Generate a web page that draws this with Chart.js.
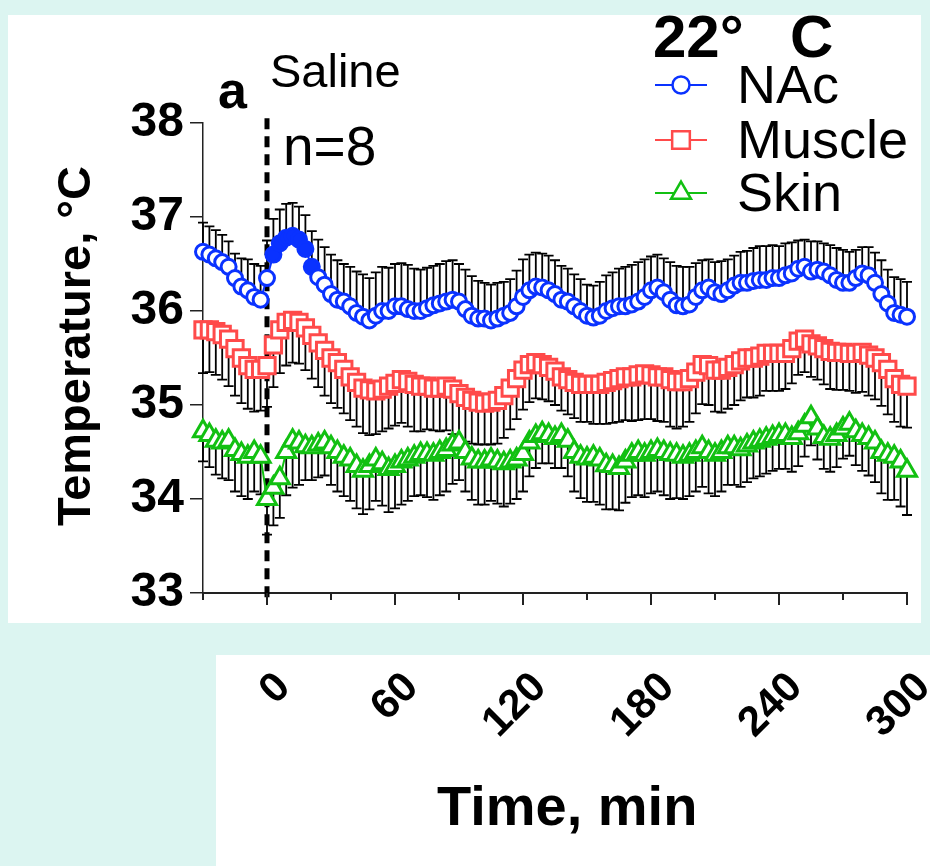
<!DOCTYPE html>
<html>
<head>
<meta charset="utf-8">
<script src="https://cdn.jsdelivr.net/npm/chart.js@4.4.1/dist/chart.umd.min.js"></script>
<style>
  html, body { margin: 0; padding: 0; background: #dcf5f1; }
  canvas { display: block; }
</style>
</head>
<body>
<canvas id="chart" width="930" height="866"></canvas>
<script>
// time in min, saline injected at 0
const times = [
  -30, -27, -24, -21, -18, -15, -12, -9, -6, -3,
  0, 3, 6, 9, 12, 15, 18, 21, 24, 27,
  30, 33, 36, 39, 42, 45, 48, 51, 54, 57,
  60, 63, 66, 69, 72, 75, 78, 81, 84, 87,
  90, 93, 96, 99, 102, 105, 108, 111, 114, 117,
  120, 123, 126, 129, 132, 135, 138, 141, 144, 147,
  150, 153, 156, 159, 162, 165, 168, 171, 174, 177,
  180, 183, 186, 189, 192, 195, 198, 201, 204, 207,
  210, 213, 216, 219, 222, 225, 228, 231, 234, 237,
  240, 243, 246, 249, 252, 255, 258, 261, 264, 267,
  270, 273, 276, 279, 282, 285, 288, 291, 294, 297,
  300
];

const nacMean = [
  36.63, 36.60, 36.56, 36.52, 36.47, 36.35, 36.26, 36.22, 36.15, 36.12,
  36.35, 36.60, 36.72, 36.78, 36.80, 36.76, 36.66, 36.47, 36.36, 36.28,
  36.18, 36.12, 36.10, 36.05, 35.98, 35.94, 35.90, 35.95, 36.00, 36.00,
  36.05, 36.05, 36.02, 36.00, 36.00, 36.03, 36.06, 36.08, 36.10, 36.12,
  36.10, 36.02, 35.95, 35.92, 35.92, 35.90, 35.92, 35.95, 35.98, 36.05,
  36.15, 36.22, 36.26, 36.25, 36.22, 36.18, 36.12, 36.10, 36.05, 36.00,
  35.95, 35.93, 35.95, 36.00, 36.03, 36.05, 36.05, 36.07, 36.10, 36.15,
  36.22, 36.25, 36.20, 36.12, 36.06, 36.05, 36.07, 36.15, 36.22, 36.25,
  36.20, 36.18, 36.22, 36.27, 36.30, 36.30, 36.32, 36.33, 36.33, 36.35,
  36.35, 36.38, 36.40, 36.45, 36.47, 36.42, 36.44, 36.42, 36.38, 36.33,
  36.30, 36.30, 36.35, 36.40, 36.38, 36.30, 36.18, 36.08, 35.98, 35.96,
  35.94
];
const nacSem = [
  0.31, 0.30, 0.30, 0.29, 0.27, 0.26, 0.30, 0.33, 0.35, 0.36,
  0.40, 0.38, 0.36, 0.36, 0.35, 0.35, 0.36, 0.38, 0.40, 0.40,
  0.42, 0.42, 0.40, 0.42, 0.44, 0.45, 0.45, 0.46, 0.47, 0.46,
  0.45, 0.46, 0.47, 0.45, 0.44, 0.43, 0.42, 0.42, 0.43, 0.42,
  0.40, 0.42, 0.42, 0.40, 0.38, 0.38, 0.38, 0.36, 0.36, 0.38,
  0.40, 0.38, 0.36, 0.36, 0.37, 0.36, 0.36, 0.35, 0.34, 0.34,
  0.33, 0.34, 0.36, 0.38, 0.38, 0.40, 0.42, 0.42, 0.42, 0.40,
  0.36, 0.35, 0.36, 0.40, 0.42, 0.42, 0.40, 0.36, 0.32, 0.30,
  0.32, 0.35, 0.33, 0.32, 0.33, 0.34, 0.35, 0.36, 0.36, 0.35,
  0.34, 0.34, 0.33, 0.30, 0.29, 0.32, 0.30, 0.30, 0.32, 0.34,
  0.35, 0.33, 0.30, 0.28, 0.30, 0.32, 0.36, 0.36, 0.38, 0.38,
  0.37
];

const muscleMean = [
  35.80, 35.80, 35.78, 35.75, 35.70, 35.60, 35.50, 35.42, 35.38, 35.38,
  35.42, 35.64, 35.80, 35.88, 35.90, 35.88, 35.82, 35.74, 35.66, 35.58,
  35.50, 35.45, 35.38, 35.30, 35.24, 35.18, 35.16, 35.15, 35.17, 35.20,
  35.23, 35.27, 35.25, 35.22, 35.20, 35.20, 35.18, 35.18, 35.20, 35.17,
  35.12, 35.08, 35.05, 35.03, 35.02, 35.03, 35.05, 35.10, 35.18, 35.28,
  35.37, 35.43, 35.45, 35.43, 35.40, 35.36, 35.30, 35.27, 35.24, 35.22,
  35.22, 35.22, 35.22, 35.24, 35.26, 35.28, 35.30, 35.30, 35.32, 35.33,
  35.32, 35.30, 35.30, 35.27, 35.25, 35.25, 35.28, 35.35, 35.43, 35.42,
  35.37, 35.37, 35.40, 35.43, 35.47, 35.50, 35.50, 35.52, 35.55, 35.55,
  35.55, 35.55, 35.60, 35.68, 35.70, 35.65, 35.63, 35.60, 35.57, 35.56,
  35.56, 35.55, 35.55, 35.56, 35.53, 35.50, 35.45, 35.38, 35.28, 35.22,
  35.20
];
const muscleSem = [
  0.46, 0.45, 0.46, 0.48, 0.50, 0.50, 0.48, 0.46, 0.45, 0.44,
  0.44, 0.45, 0.46, 0.46, 0.45, 0.44, 0.45, 0.46, 0.47, 0.48,
  0.48, 0.48, 0.47, 0.46, 0.47, 0.48, 0.48, 0.46, 0.45, 0.45,
  0.45, 0.46, 0.48, 0.50, 0.48, 0.46, 0.45, 0.46, 0.47, 0.48,
  0.48, 0.47, 0.46, 0.45, 0.44, 0.45, 0.46, 0.45, 0.44, 0.43,
  0.42, 0.40, 0.38, 0.37, 0.36, 0.36, 0.36, 0.37, 0.38, 0.40,
  0.40, 0.42, 0.42, 0.44, 0.45, 0.46, 0.46, 0.47, 0.48, 0.48,
  0.47, 0.47, 0.48, 0.50, 0.50, 0.48, 0.46, 0.44, 0.42, 0.42,
  0.44, 0.45, 0.44, 0.43, 0.42, 0.42, 0.42, 0.42, 0.40, 0.40,
  0.40, 0.38, 0.37, 0.36, 0.35, 0.35, 0.36, 0.38, 0.40, 0.40,
  0.40, 0.40, 0.42, 0.42, 0.43, 0.44, 0.46, 0.48, 0.46, 0.45,
  0.44
];

const skinMean = [
  34.72, 34.68, 34.62, 34.60, 34.62, 34.52, 34.48, 34.45, 34.50, 34.45,
  34.00, 34.12, 34.22, 34.50, 34.62, 34.60, 34.56, 34.55, 34.58, 34.60,
  34.55, 34.50, 34.45, 34.42, 34.35, 34.30, 34.35, 34.42, 34.38, 34.32,
  34.35, 34.40, 34.42, 34.45, 34.48, 34.48, 34.47, 34.50, 34.52, 34.58,
  34.60, 34.50, 34.43, 34.40, 34.40, 34.42, 34.40, 34.38, 34.40, 34.42,
  34.48, 34.60, 34.67, 34.70, 34.68, 34.65, 34.68, 34.62, 34.50, 34.45,
  34.43, 34.45, 34.42, 34.36, 34.35, 34.33, 34.40, 34.47, 34.50, 34.47,
  34.50, 34.52, 34.50, 34.48, 34.47, 34.45, 34.47, 34.50, 34.55, 34.50,
  34.47, 34.50, 34.55, 34.55, 34.53, 34.57, 34.60, 34.62, 34.64, 34.66,
  34.68, 34.68, 34.65, 34.70, 34.78, 34.87, 34.75, 34.66, 34.64, 34.68,
  34.75, 34.80, 34.72, 34.68, 34.65, 34.60, 34.50, 34.47, 34.45, 34.40,
  34.30
];
const skinSem = [
  0.32, 0.34, 0.36, 0.38, 0.42, 0.44, 0.45, 0.45, 0.42, 0.40,
  0.38, 0.40, 0.42, 0.46, 0.50, 0.45, 0.36, 0.35, 0.35, 0.35,
  0.40, 0.42, 0.42, 0.44, 0.45, 0.46, 0.46, 0.44, 0.45, 0.46,
  0.45, 0.46, 0.44, 0.42, 0.44, 0.46, 0.48, 0.46, 0.44, 0.42,
  0.40, 0.42, 0.44, 0.46, 0.46, 0.44, 0.45, 0.46, 0.45, 0.42,
  0.40, 0.36, 0.34, 0.32, 0.30, 0.32, 0.35, 0.38, 0.42, 0.44,
  0.46, 0.48, 0.48, 0.47, 0.46, 0.45, 0.44, 0.45, 0.46, 0.45,
  0.44, 0.44, 0.46, 0.48, 0.46, 0.45, 0.44, 0.42, 0.42, 0.44,
  0.44, 0.42, 0.40, 0.40, 0.40, 0.39, 0.38, 0.38, 0.37, 0.36,
  0.36, 0.36, 0.36, 0.35, 0.33, 0.30, 0.33, 0.34, 0.35, 0.34,
  0.32, 0.34, 0.36, 0.38, 0.40, 0.42, 0.44, 0.48, 0.46, 0.48,
  0.47
];

const xTicks = [-30, 0, 30, 60, 90, 120, 150, 180, 210, 240, 270, 300];
const xLabels = [0, 60, 120, 180, 240, 300];

const BG = '#dcf5f1';
const BLUE = '#0a32ff';
const RED = '#ff4a4a';
const GREEN = '#12c012';
const FONT = '"Liberation Sans", Arial, sans-serif';

// dir: which side the SEM bar is drawn on
const series = [
  { label: 'NAc', mean: nacMean, sem: nacSem, dir: 1, color: BLUE, style: 'circle', r: 7.5, legendR: 8.5 },
  { label: 'Muscle', mean: muscleMean, sem: muscleSem, dir: -1, color: RED, style: 'rect', r: 11.5, legendR: 12.5 },
  { label: 'Skin', mean: skinMean, sem: skinSem, dir: -1, color: GREEN, style: 'triangle', r: 11, legendR: 11.5 }
];

// the first minutes after injection are drawn as a solid blob in the original
const nacFill = times.map(t => (t >= 3 && t <= 21) ? BLUE : '#fff');

const decor = {
  id: 'decor',
  beforeDraw(chart) {
    const c = chart.ctx;
    c.save();
    c.fillStyle = BG;
    c.fillRect(0, 0, chart.width, chart.height);
    c.fillStyle = '#fff';
    c.fillRect(8, 15, 913, 608);
    c.fillRect(216, 655, 714, 211);
    c.restore();
  },
  beforeDatasetsDraw(chart) {
    const c = chart.ctx, x = chart.scales.x, y = chart.scales.y;
    c.save();
    // injection line
    const x0 = x.getPixelForValue(0);
    c.strokeStyle = '#000';
    c.lineWidth = 5;
    c.setLineDash([11, 7]);
    c.beginPath();
    c.moveTo(x0, y.getPixelForValue(38.05));
    c.lineTo(x0, y.getPixelForValue(32.9));
    c.stroke();
    c.setLineDash([]);
    // SEM bars
    c.lineWidth = 1.8;
    series.forEach(s => {
      s.mean.forEach((m, i) => {
        const px = x.getPixelForValue(times[i]);
        const p0 = y.getPixelForValue(m);
        const p1 = y.getPixelForValue(m + s.dir * s.sem[i]);
        c.beginPath();
        c.moveTo(px, p0); c.lineTo(px, p1);
        c.moveTo(px - 5, p1); c.lineTo(px + 5, p1);
        c.stroke();
      });
    });
    c.restore();
  },
  afterDraw(chart) {
    const c = chart.ctx, x = chart.scales.x;
    c.save();
    // x ticks, long ones every hour
    c.strokeStyle = '#222';
    c.lineWidth = 2;
    xTicks.forEach(t => {
      const px = x.getPixelForValue(t);
      const len = t % 60 === 0 ? 12 : 7;
      c.beginPath(); c.moveTo(px, x.top); c.lineTo(px, x.top + len); c.stroke();
    });
    // x tick labels sit in the lower white panel
    c.fillStyle = '#000';
    c.font = 'bold 42px ' + FONT;
    c.textAlign = 'right';
    c.textBaseline = 'alphabetic';
    xLabels.forEach(t => {
      c.save();
      c.translate(x.getPixelForValue(t) + 25, 689);
      c.rotate(-Math.PI / 4);
      c.fillText(String(t), 0, 0);
      c.restore();
    });
    c.textAlign = 'left';
    c.font = 'bold 56px ' + FONT;
    c.fillText('Time, min', 437, 825);

    c.save();
    c.translate(90, 346);
    c.rotate(-Math.PI / 2);
    c.textAlign = 'center';
    c.font = 'bold 47px ' + FONT;
    c.fillText('Temperature, °C', 0, 0);
    c.restore();

    c.font = 'bold 52px ' + FONT;
    c.fillText('a', 218, 108);
    c.font = '47px ' + FONT;
    c.fillText('Saline', 270, 87);
    c.font = '55px ' + FONT;
    c.fillText('n=8', 283, 165);
    c.font = 'bold 60px ' + FONT;
    c.fillText('22°', 653, 57);
    c.fillText('C', 790, 57);

    // legend
    const rows = [85, 140, 193];
    series.forEach((s, i) => {
      const ly = rows[i];
      c.strokeStyle = s.color;
      c.lineWidth = 2;
      c.beginPath(); c.moveTo(655, ly); c.lineTo(707, ly); c.stroke();
      c.fillStyle = '#fff';
      c.lineWidth = 2.5;
      Chart.helpers.drawPoint(c, { pointStyle: s.style, radius: s.legendR, borderWidth: 2.5, rotation: 0 }, 681, ly);
      c.fillStyle = '#000';
      c.font = '54px ' + FONT;
      c.fillText(s.label, 737, ly + 18);
    });
    c.restore();
  }
};

new Chart(document.getElementById('chart'), {
  type: 'line',
  data: {
    datasets: series.map((s, k) => ({
      label: s.label,
      data: times.map((t, i) => ({ x: t, y: s.mean[i] })),
      borderColor: s.color,
      borderWidth: 2,
      pointStyle: s.style,
      pointRadius: s.r,
      pointBorderWidth: 3,
      pointBorderColor: s.color,
      pointBackgroundColor: k === 0 ? nacFill : '#fff',
      tension: 0,
      clip: false
    }))
  },
  options: {
    responsive: false,
    animation: false,
    layout: { padding: { top: 123, right: 23, left: 0, bottom: 0 } },
    plugins: { legend: { display: false }, tooltip: { enabled: false } },
    scales: {
      x: {
        type: 'linear', min: -30, max: 300,
        afterFit: s => { s.height = 273; },
        ticks: { display: false },
        grid: { display: false },
        border: { color: '#222', width: 2 }
      },
      y: {
        min: 33, max: 38,
        afterFit: s => { s.width = 203; },
        ticks: { stepSize: 1, color: '#000', padding: 6, font: { family: FONT, size: 48, weight: 'bold' } },
        grid: { drawOnChartArea: false, drawTicks: true, tickLength: 13, color: '#222', lineWidth: 1.5 },
        border: { color: '#222', width: 1.5 }
      }
    }
  },
  plugins: [decor]
});
</script>
</body>
</html>
